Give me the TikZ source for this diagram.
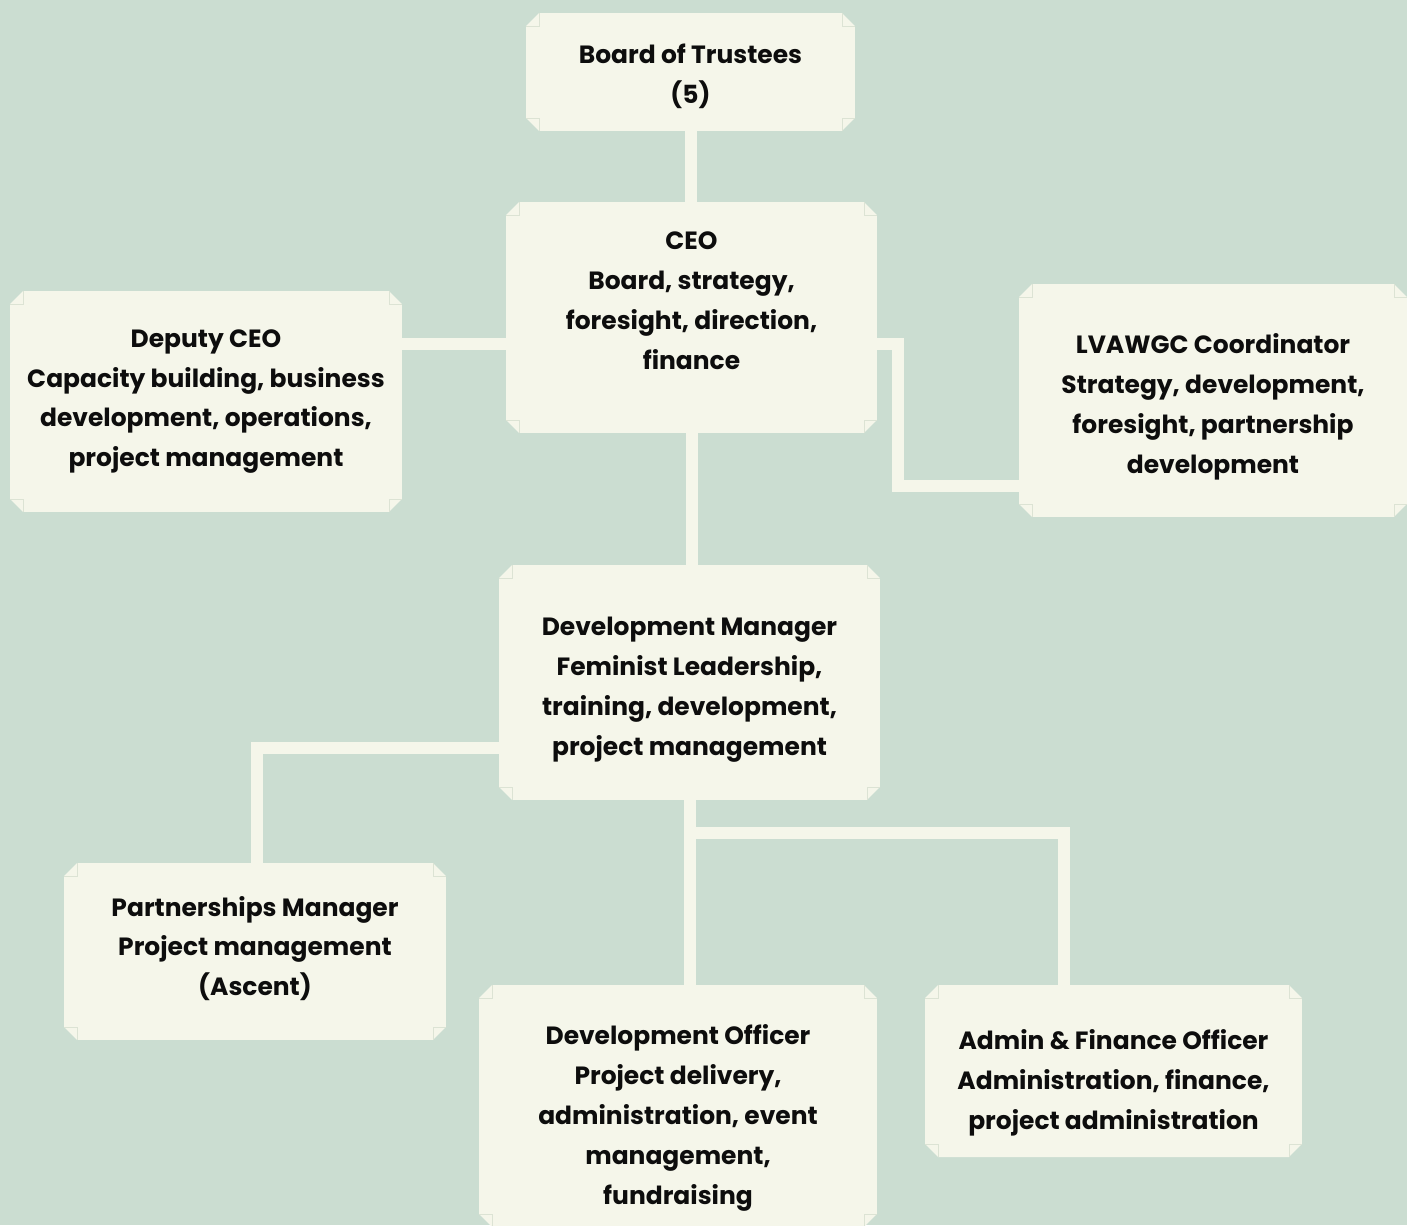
\documentclass[tikz,border=0pt]{standalone}
\usepackage{fontspec}
\setmainfont{Poppins}
\definecolor{sage}{HTML}{CBDDD1}
\definecolor{paper}{HTML}{F5F6EA}
\definecolor{crease}{HTML}{DCE3D4}
\pgfdeclarelayer{back}
\pgfdeclarelayer{links}
\pgfsetlayers{back,links,main}
\def\cut{0.26cm}
% taller first line, so the text block sits lower in its box
\newcommand\drop[1]{\rule{0pt}{#1}}

\begin{document}
\begin{tikzpicture}[x=0.02cm, y=-0.02cm,
	post/.style={inner sep=0pt, align=center, text=black!95,
		font=\fontsize{14.2}{22.7}\selectfont\bfseries,
		path picture={
			\coordinate (nw) at (path picture bounding box.north west);
			\coordinate (ne) at (path picture bounding box.north east);
			\coordinate (sw) at (path picture bounding box.south west);
			\coordinate (se) at (path picture bounding box.south east);
			\fill[paper] ([yshift=-\cut]nw) -- ([xshift=\cut]nw) -- ([xshift=-\cut]ne) -- ([yshift=-\cut]ne)
				-- ([yshift=\cut]se) -- ([xshift=-\cut]se) -- ([xshift=\cut]sw) -- ([yshift=\cut]sw) -- cycle;
			\draw[crease, line width=0.5pt] ([yshift=-\cut]nw) -| ([xshift=\cut]nw);
			\draw[crease, line width=0.5pt] ([yshift=-\cut]ne) -| ([xshift=-\cut]ne);
			\draw[crease, line width=0.5pt] ([yshift=\cut]sw) -| ([xshift=\cut]sw);
			\draw[crease, line width=0.5pt] ([yshift=\cut]se) -| ([xshift=-\cut]se);
		}},
	lift/.style={execute at end node={\rule[-#1]{0pt}{0pt}}},
	link/.style={draw=paper, line width=0.24cm}]

	\useasboundingbox (0,0) rectangle (1407,1225);
	\begin{pgfonlayer}{back}
		\fill[sage] (0,0) rectangle (1407,1225);
	\end{pgfonlayer}

	% boxes
	\node[post, minimum width=6.58cm, minimum height=2.36cm] (board) at (690.5,72) {\drop{16.2pt}Board of Trustees\\(5)};
	\node[post, lift=19.3pt, minimum width=7.42cm, minimum height=4.62cm] (ceo) at (691.5,317.5) {CEO\\Board, strategy,\\foresight, direction,\\finance};
	\node[post, minimum width=7.84cm, minimum height=4.42cm] (deputy) at (206,401.5) {Deputy CEO\\Capacity building, business\\development, operations,\\project management};
	\node[post, minimum width=7.76cm, minimum height=4.66cm] (lvawgc) at (1213,400.5) {\drop{18.4pt}LVAWGC Coordinator\\Strategy, development,\\foresight, partnership\\development};
	\node[post, minimum width=7.62cm, minimum height=4.70cm] (devmgr) at (689.5,682.5) {\drop{18.4pt}Development Manager\\Feminist Leadership,\\training, development,\\project management};
	\node[post, lift=6.4pt, minimum width=7.64cm, minimum height=3.54cm] (partner) at (255,951.5) {Partnerships Manager\\Project management\\(Ascent)};
	\node[post, minimum width=7.96cm, minimum height=4.84cm] (devoff) at (678,1106) {\drop{25.2pt}Development Officer\\Project delivery,\\administration, event\\management,\\fundraising};
	\node[post, minimum width=7.54cm, minimum height=3.44cm] (admin) at (1113.5,1071) {\drop{25.2pt}Admin \& Finance Officer\\Administration, finance,\\project administration};

	% connectors
	\coordinate (ceoW) at ([yshift=-0.53cm]ceo.west);
	\coordinate (ceoE) at ([yshift=-0.53cm]ceo.east);
	\coordinate (lvaW) at ([yshift=-1.71cm]lvawgc.west);
	\coordinate (mgrW) at ([yshift=-1.31cm]devmgr.west);
	\coordinate (mgrS) at ([yshift=-0.66cm]devmgr.south);
	\begin{pgfonlayer}{links}
		\draw[link] (board.south) -- (board.south |- ceo.north);
		\draw[link] (ceoW) -- (ceoW -| deputy.east);
		\draw[link] (ceoE) -- ++(21,0) |- (lvaW);
		\draw[link] (ceo.south) -- (ceo.south |- devmgr.north);
		\draw[link] (mgrW) -| ([xshift=0.04cm]partner.north);
		\draw[link] (devmgr.south) -- (devmgr.south |- devoff.north);
		\draw[link] (mgrS) -| ([xshift=-0.99cm]admin.north);
	\end{pgfonlayer}
\end{tikzpicture}
\end{document}
